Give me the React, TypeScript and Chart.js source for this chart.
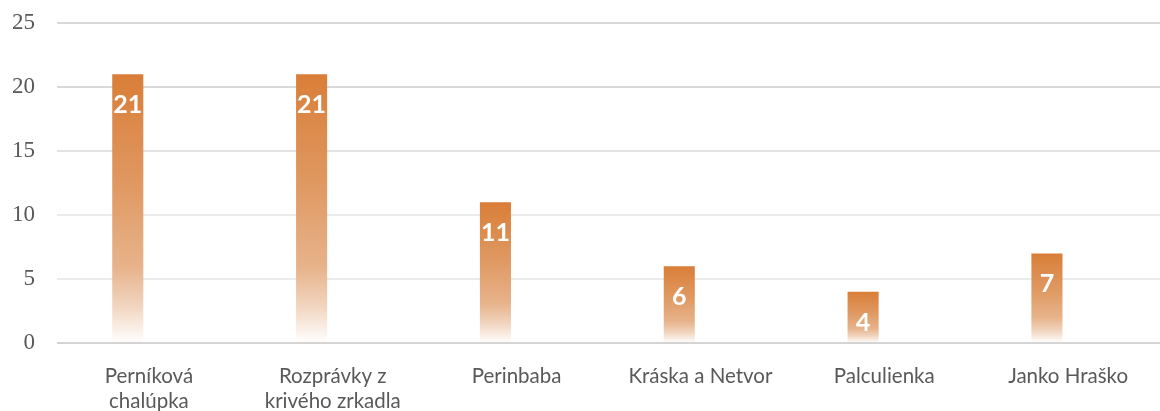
import React, { useEffect, useRef } from "react";
import { Chart, registerables } from "chart.js";

Chart.register(...registerables);

const categories: (string | string[])[] = [
  ["Perníková", "chalúpka"],
  ["Rozprávky z", "krivého zrkadla"],
  "Perinbaba",
  "Kráska a Netvor",
  "Palculienka",
  "Janko Hraško",
];
const values = [21, 21, 11, 6, 4, 7];
const emptySeries = [null, null, null, null, null, null];
const yTicks = [0, 5, 10, 15, 20, 25];

const gridColorFor = (v: number) => {
  if (v === 0) return "#D4D4D4";
  if (v >= 20) return "#D9D9D9";
  if (v >= 15) return "#E3E3E3";
  return "#EBEBEB";
};

const labelPlugin = {
  id: "barLabels",
  afterDatasetsDraw(chart: any) {
    const ctx = chart.ctx;
    const meta = chart.getDatasetMeta(0);
    ctx.save();
    ctx.fillStyle = "#FFFFFF";
    ctx.font = "bold 25px Lato, 'Open Sans', sans-serif";
    ctx.textAlign = "center";
    ctx.textBaseline = "middle";
    meta.data.forEach((el: any, i: number) => {
      ctx.fillText(String(values[i]), el.x, el.y + 31);
    });
    ctx.restore();
  },
};

export default function App() {
  const ref = useRef<HTMLCanvasElement>(null);
  useEffect(() => {
    if (!ref.current) return;
    const chart = new Chart(ref.current, {
      type: "bar",
      data: {
        labels: categories,
        datasets: [
          {
            label: "Počet",
            data: values,
            categoryPercentage: 0.46,
            barPercentage: 0.735,
            backgroundColor: (c: any) => {
              const ch = c.chart;
              if (c.type !== "data" || !ch.chartArea || !ch.scales.y) return "#DA803C";
              const ys = ch.scales.y;
              const top = ys.getPixelForValue(c.raw);
              const bottom = ys.getPixelForValue(0);
              if (!isFinite(top) || !isFinite(bottom) || top === bottom) return "#DA803C";
              const g = ch.ctx.createLinearGradient(0, top, 0, bottom);
              g.addColorStop(0, "#D97E38");
              g.addColorStop(0.4, "#DF9860");
              g.addColorStop(0.72, "#E7B38B");
              g.addColorStop(0.86, "#F1D4BE");
              g.addColorStop(1, "#FFFFFF");
              return g;
            },
            borderWidth: 0,
          },
          {
            label: "",
            data: emptySeries,
            categoryPercentage: 0.46,
            barPercentage: 0.735,
            backgroundColor: "rgba(0,0,0,0)",
          },
        ],
      },
      options: {
        responsive: false,
        animation: false,
        devicePixelRatio: 1,
        layout: { autoPadding: false, padding: { top: 23, left: 0, right: 0, bottom: 0 } },
        plugins: {
          legend: { display: false },
          tooltip: { enabled: false },
          title: { display: false },
        },
        scales: {
          x: {
            grid: { display: false },
            border: { display: false },
            ticks: {
              color: "#595959",
              font: { family: "Lato, 'Open Sans', sans-serif", size: 20.5, lineHeight: 1.2 },
              padding: 13,
              maxRotation: 0,
              autoSkip: false,
            },
            afterFit: (s: any) => {
              s.height = 68;
              s.paddingLeft = 0;
              s.paddingRight = 0;
            },
          },
          y: {
            min: 0,
            max: 25,
            afterBuildTicks: (s: any) => {
              s.ticks = yTicks.map((v) => ({ value: v }));
            },
            grid: {
              color: (c: any) => gridColorFor(c.tick ? c.tick.value : 0),
              lineWidth: 2,
              drawTicks: false,
            },
            border: { display: false },
            ticks: {
              color: "#595959",
              font: { family: "'Liberation Serif', serif", size: 23 },
              padding: 22,
            },
            afterFit: (s: any) => {
              s.width = 57;
              s.paddingTop = 0;
              s.paddingBottom = 0;
            },
          },
        },
      },
      plugins: [labelPlugin],
    });
    return () => chart.destroy();
  }, []);
  return (
    <div style={{ position: "fixed", left: 0, top: 0, width: 1160, height: 411, background: "#fff" }}>
      <canvas ref={ref} width={1160} height={411} />
    </div>
  );
}
